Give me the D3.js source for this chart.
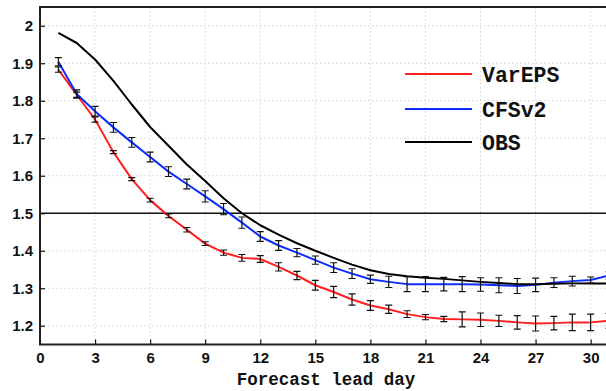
<!DOCTYPE html>
<html>
<head>
<meta charset="utf-8">
<script src="https://cdn.jsdelivr.net/npm/d3@7"></script>
<style>
  html, body { margin: 0; padding: 0; background: #fff; }
  svg { display: block; }
</style>
</head>
<body>
<svg id="chart" width="606" height="391"></svg>
<script>
// Forecast lead days
const days = d3.range(1, 32);

// Ensemble means by lead day
const varEPS = [1.883, 1.816, 1.750, 1.663, 1.591, 1.535, 1.493, 1.456, 1.419, 1.395,
                1.381, 1.378, 1.357, 1.334, 1.308, 1.290, 1.270, 1.254, 1.244, 1.231,
                1.223, 1.218, 1.217, 1.216, 1.213, 1.209, 1.206, 1.207, 1.209, 1.209, 1.213];
const cfsv2  = [1.904, 1.818, 1.772, 1.729, 1.689, 1.650, 1.611, 1.578, 1.545, 1.511,
                1.475, 1.438, 1.414, 1.395, 1.375, 1.355, 1.339, 1.324, 1.317, 1.311,
                1.311, 1.311, 1.311, 1.310, 1.308, 1.306, 1.309, 1.315, 1.319, 1.322, 1.334];
const obs    = [1.981, 1.954, 1.910, 1.853, 1.790, 1.730, 1.680, 1.630, 1.586, 1.540,
                1.500, 1.468, 1.443, 1.420, 1.400, 1.381, 1.363, 1.348, 1.338, 1.332,
                1.328, 1.325, 1.321, 1.317, 1.314, 1.311, 1.311, 1.312, 1.313, 1.313, 1.313];

// Half-widths of the uncertainty bars
const varEPSErr = [0.007, 0.007, 0.007, 0.004, 0.004, 0.005, 0.005, 0.006, 0.005, 0.007,
                   0.009, 0.009, 0.011, 0.011, 0.013, 0.015, 0.015, 0.013, 0.011, 0.009,
                   0.007, 0.007, 0.020, 0.018, 0.015, 0.018, 0.020, 0.018, 0.022, 0.022, 0.020];
const cfsv2Err  = [0.011, 0.011, 0.013, 0.013, 0.013, 0.013, 0.013, 0.013, 0.015, 0.015,
                   0.015, 0.013, 0.013, 0.011, 0.011, 0.013, 0.013, 0.011, 0.015, 0.020,
                   0.020, 0.018, 0.020, 0.018, 0.020, 0.020, 0.018, 0.013, 0.013, 0.008, 0.010];

const referenceLevel = 1.5;

const xTicks = d3.range(0, 31, 3);
const yTicks = [1.2, 1.3, 1.4, 1.5, 1.6, 1.7, 1.8, 1.9, 2.0];
const yTickLabels = ["1.2", "1.3", "1.4", "1.5", "1.6", "1.7", "1.8", "1.9", "2"];

const seriesNames = ["VarEPS", "CFSv2", "OBS"];
const seriesColors = ["#ff1f1f", "#0b2cff", "#000000"];

const xTitle = "Forecast lead day";

// Layout
const svg = d3.select("#chart");
const plotLeft = 40, plotRight = 609, plotTop = 7, plotBottom = 344.5;

const x = d3.scaleLinear().domain([0, 31]).range([plotLeft, plotRight]);
const y = d3.scaleLinear().domain([1.15, 2.05]).range([plotBottom, plotTop]);

svg.append("rect").attr("width", 606).attr("height", 391).attr("fill", "#fff");

// Dotted grid
const grid = svg.append("g");
grid.selectAll("line.h").data(yTicks).join("line")
  .attr("x1", plotLeft).attr("x2", plotRight)
  .attr("y1", d => y(d)).attr("y2", d => y(d))
  .attr("stroke", "#d4d4d4").attr("stroke-width", 1).attr("stroke-dasharray", "1.5,2.5");
grid.selectAll("line.v").data(xTicks.filter(d => d > 0)).join("line")
  .attr("x1", d => x(d)).attr("x2", d => x(d))
  .attr("y1", plotTop).attr("y2", plotBottom)
  .attr("stroke", "#d4d4d4").attr("stroke-width", 1).attr("stroke-dasharray", "1.5,2.5");

// Reference level
svg.append("line")
  .attr("x1", plotLeft).attr("x2", plotRight)
  .attr("y1", y(referenceLevel)).attr("y2", y(referenceLevel))
  .attr("stroke", "#111").attr("stroke-width", 1.3);

// Axes
const xAxis = d3.axisBottom(x).tickValues(xTicks).tickSize(-5).tickPadding(8).tickFormat(d3.format("d"));
const yAxis = d3.axisLeft(y).tickValues(yTicks).tickSize(-5).tickPadding(7)
  .tickFormat((d, i) => yTickLabels[i]);

const gx = svg.append("g").attr("transform", `translate(0,${plotBottom})`).call(xAxis);
const gy = svg.append("g").attr("transform", `translate(${plotLeft},0)`).call(yAxis);
[gx, gy].forEach(g => {
  g.select(".domain").remove();
  g.selectAll(".tick line").attr("stroke", "#111").attr("stroke-width", 1.2);
  g.selectAll(".tick text")
    .attr("fill", "#111")
    .style("font-family", "'Liberation Sans', Arial, sans-serif")
    .style("font-weight", "bold")
    .style("font-size", "15px");
});

// Frame
svg.append("path")
  .attr("d", `M${plotRight},${plotTop}H${plotLeft}V${plotBottom}H${plotRight}`)
  .attr("fill", "none").attr("stroke", "#222").attr("stroke-width", 2);

// Series lines
const line = d3.line().x((d, i) => x(days[i])).y(d => y(d));
const allSeries = [varEPS, cfsv2, obs];
allSeries.forEach((s, k) => {
  svg.append("path").datum(s)
    .attr("d", line)
    .attr("fill", "none")
    .attr("stroke", seriesColors[k])
    .attr("stroke-width", 2)
    .attr("stroke-linejoin", "round");
});

// Uncertainty bars
function errorBars(values, errs) {
  const g = svg.append("g").attr("stroke", "#111").attr("stroke-width", 1.2).attr("fill", "none");
  const cap = 3.5;
  g.selectAll("path").data(values).join("path")
    .attr("d", (d, i) => {
      const cx = x(days[i]), y0 = y(d - errs[i]), y1 = y(d + errs[i]);
      return `M${cx - cap},${y0}H${cx + cap}M${cx},${y0}V${y1}M${cx - cap},${y1}H${cx + cap}`;
    });
}
errorBars(varEPS, varEPSErr);
errorBars(cfsv2, cfsv2Err);

// Legend
const legend = svg.append("g");
const legendY = [74, 109, 142];
seriesNames.forEach((name, k) => {
  legend.append("line")
    .attr("x1", 405).attr("x2", 472)
    .attr("y1", legendY[k]).attr("y2", legendY[k])
    .attr("stroke", seriesColors[k]).attr("stroke-width", 2.2);
  legend.append("text")
    .attr("x", 482).attr("y", legendY[k])
    .attr("dy", "0.35em")
    .attr("fill", "#111")
    .style("font-family", "'Liberation Mono', 'Courier New', monospace")
    .style("font-weight", "bold")
    .style("font-size", "21.5px")
    .text(name);
});

// Axis title
svg.append("text")
  .attr("x", 326).attr("y", 385)
  .attr("text-anchor", "middle")
  .attr("fill", "#111")
  .style("font-family", "'Liberation Mono', 'Courier New', monospace")
  .style("font-weight", "bold")
  .style("font-size", "17.5px")
  .text(xTitle);
</script>
</body>
</html>
